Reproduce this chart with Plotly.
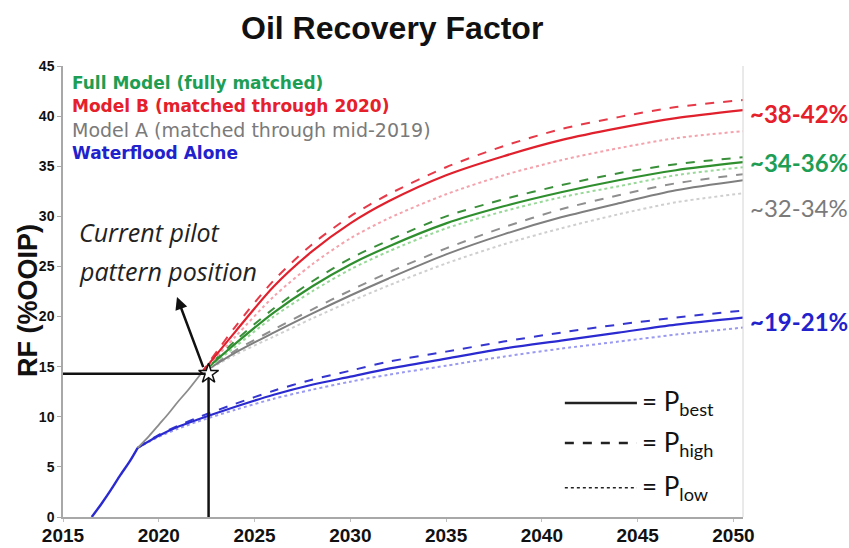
import plotly.graph_objects as go

# ---- history ----
wf_hist_years = [2016.5, 2017.0, 2017.5, 2018.0, 2018.5, 2018.9]
wf_hist_rf = [0.0, 1.3, 2.7, 4.2, 5.6, 6.9]

modela_hist_years = [2018.9, 2019.5, 2020.0, 2020.5, 2021.0, 2021.5, 2022.2]
modela_hist_rf = [6.9, 8.1, 9.2, 10.3, 11.5, 12.6, 14.3]

# ---- forecasts from the current pilot position ----
fc_years = [2022.2, 2024, 2026, 2028, 2030, 2032, 2035, 2038, 2041, 2044, 2047, 2050.5]

modelb_best = [14.3, 18.5, 23.0, 26.5, 29.3, 31.5, 34.1, 36.0, 37.6, 38.8, 39.8, 40.6]
modelb_high = [14.3, 19.0, 23.6, 27.2, 30.0, 32.2, 34.9, 37.0, 38.7, 39.9, 40.9, 41.6]
modelb_low = [14.3, 18.0, 22.0, 25.2, 27.8, 29.8, 32.2, 34.1, 35.6, 36.8, 37.8, 38.5]

full_best = [14.3, 17.3, 20.4, 23.0, 25.2, 27.0, 29.3, 31.0, 32.4, 33.6, 34.6, 35.4]
full_high = [14.3, 17.6, 20.8, 23.5, 25.8, 27.6, 30.0, 31.7, 33.1, 34.3, 35.2, 35.9]
full_low = [14.3, 17.0, 20.0, 22.5, 24.7, 26.5, 28.8, 30.5, 31.9, 33.0, 34.1, 34.9]

modela_best = [14.3, 16.4, 18.4, 20.3, 22.1, 23.8, 26.2, 28.2, 29.9, 31.3, 32.6, 33.6]
modela_high = [14.3, 16.6, 18.7, 20.7, 22.6, 24.4, 26.8, 28.9, 30.7, 32.1, 33.3, 34.2]
modela_low = [14.3, 16.2, 18.0, 19.8, 21.5, 23.1, 25.3, 27.2, 28.8, 30.2, 31.4, 32.3]

wf_years = [2018.9, 2020, 2021, 2022, 2024, 2026, 2028, 2030, 2032, 2035, 2038, 2041, 2044, 2047, 2050.5]
wf_best = [6.9, 8.1, 9.0, 9.7, 11.0, 12.2, 13.2, 14.0, 14.8, 15.8, 16.8, 17.6, 18.4, 19.2, 19.9]
wf_high = [6.9, 8.2, 9.1, 9.9, 11.3, 12.6, 13.7, 14.6, 15.5, 16.5, 17.5, 18.4, 19.2, 19.9, 20.6]
wf_low = [6.9, 8.0, 8.8, 9.5, 10.7, 11.8, 12.7, 13.5, 14.2, 15.1, 16.0, 16.8, 17.5, 18.2, 18.9]

current_year = 2022.6
current_rf = 14.3

x_ticks = [2015, 2020, 2025, 2030, 2035, 2040, 2045, 2050]
y_ticks = [0, 5, 10, 15, 20, 25, 30, 35, 40, 45]

# caption text, colour, weight, size
series_labels = [
    ("Full Model (fully matched)", "#1e9e55", "bold", 17),
    ("Model B (matched through 2020)", "#e5202a", "bold", 17),
    ("Model A (matched through mid-2019)", "#7a7a7a", "normal", 19),
    ("Waterflood Alone", "#2222cc", "bold", 17),
]
range_labels = [
    ("~38-42%", 40.3, "#e5202a", "bold"),
    ("~34-36%", 35.4, "#1e9e55", "bold"),
    ("~32-34%", 30.9, "#7a7a7a", "normal"),
    ("~19-21%", 19.5, "#2222cc", "bold"),
]

fig = go.Figure()


def add_line(x, y, color, dash="solid", width=2.0):
    fig.add_trace(go.Scatter(
        x=x, y=y, mode="lines", showlegend=False, hoverinfo="skip",
        line=dict(color=color, dash=dash, width=width, shape="spline", smoothing=0.8),
    ))


# Waterflood
add_line(wf_years, wf_low, "#9a9af0", "dot", 2.0)
add_line(wf_years, wf_high, "#3535d0", "dash", 2.0)
add_line(wf_years, wf_best, "#2a2ad0", "solid", 2.2)
add_line(wf_hist_years, wf_hist_rf, "#2a2ad0", "solid", 2.4)

# Model A
add_line(modela_hist_years, modela_hist_rf, "#8c8c8c", "solid", 1.8)
add_line(fc_years, modela_low, "#cfcfcf", "dot", 2.0)
add_line(fc_years, modela_high, "#8f8f8f", "dash", 2.0)
add_line(fc_years, modela_best, "#7f7f7f", "solid", 2.0)

# Full model
add_line(fc_years, full_low, "#98d898", "dot", 2.0)
add_line(fc_years, full_high, "#3a8f3a", "dash", 2.0)
add_line(fc_years, full_best, "#2f8f2f", "solid", 2.2)

# Model B
add_line(fc_years, modelb_low, "#f4a2ac", "dot", 2.0)
add_line(fc_years, modelb_high, "#e63a48", "dash", 2.0)
add_line(fc_years, modelb_best, "#e0202c", "solid", 2.2)

# Current position guides
fig.add_shape(type="line", xref="x", yref="y", x0=2015, x1=current_year - 0.15,
              y0=current_rf, y1=current_rf, line=dict(color="#111", width=2.5))
fig.add_shape(type="line", xref="x", yref="y", x0=current_year, x1=current_year,
              y0=current_rf - 0.45, y1=0, line=dict(color="#111", width=2.5))
fig.add_trace(go.Scatter(
    x=[current_year], y=[current_rf], mode="markers", showlegend=False, hoverinfo="skip",
    marker=dict(symbol="star", size=15, color="white", line=dict(color="#111", width=1.5)),
))

fig.add_annotation(x=2020.95, y=21.96, xref="x", yref="y", ax=2022.35, ay=14.8,
                   axref="x", ayref="y", showarrow=True, arrowhead=2, arrowsize=1,
                   arrowwidth=2.5, arrowcolor="#111", text="")

fig.add_annotation(x=0.021, y=0.632, xref="paper", yref="paper", xanchor="left", yanchor="middle",
                   text="<i>Current pilot</i>", showarrow=False,
                   font=dict(family="Open Sans", size=25, color="#222"))
fig.add_annotation(x=0.021, y=0.545, xref="paper", yref="paper", xanchor="left", yanchor="middle",
                   text="<i>pattern position</i>", showarrow=False,
                   font=dict(family="Open Sans", size=25, color="#222"))

# Series captions
for i, (txt, col, wt, sz) in enumerate(series_labels):
    fig.add_annotation(x=0.0103, y=0.963 - i * 0.0522, xref="paper", yref="paper",
                       xanchor="left", yanchor="middle", text=txt, showarrow=False,
                       font=dict(family="DejaVu Sans", size=sz, color=col, weight=wt))

# End-of-forecast ranges
for txt, yv, col, wt in range_labels:
    fig.add_annotation(x=1.008, y=yv, xref="paper", yref="y", xanchor="left", yanchor="middle",
                       text=txt, showarrow=False,
                       font=dict(family="Lato", size=24, color=col, weight=wt))

# Line-style key
key_rows = [("solid", 0.253, "best"), ("dash", 0.164, "high"), ("dot", 0.065, "low")]
for dash, yp, sub in key_rows:
    fig.add_shape(type="line", xref="paper", yref="paper", x0=0.738, x1=0.844, y0=yp, y1=yp,
                  line=dict(color="#222", width=2.5 if dash != "dot" else 1.5, dash=dash))
    fig.add_annotation(x=0.849, y=yp, xref="paper", yref="paper", xanchor="left", yanchor="middle",
                       text="= P<sub>%s</sub>" % sub, showarrow=False,
                       font=dict(family="Lato", size=26, color="#111"))

# Right frame edge
fig.add_shape(type="line", xref="paper", yref="paper", x0=1, x1=1, y0=0, y1=1,
              line=dict(color="#d4d4d4", width=1))

# Titles
fig.add_annotation(x=0.4838, y=1.084, xref="paper", yref="paper", xanchor="center", yanchor="middle",
                   text="Oil Recovery Factor", showarrow=False,
                   font=dict(family="Liberation Sans", size=32, color="#111", weight="bold"))
fig.add_annotation(x=-0.0515, y=0.481, xref="paper", yref="paper", xanchor="center", yanchor="middle",
                   text="RF (%OOIP)", textangle=-90, showarrow=False,
                   font=dict(family="Liberation Sans", size=27, color="#111", weight="bold"))

fig.update_layout(
    width=849, height=548,
    margin=dict(l=63, r=106, t=66, b=31),
    paper_bgcolor="white", plot_bgcolor="white",
    xaxis=dict(range=[2015, 2050.5], tickvals=x_ticks, showgrid=False, zeroline=False,
               automargin=False,
               showline=True, linecolor="#a8a8a8", linewidth=1.5,
               ticks="outside", ticklen=3, tickcolor="#c0c0c0", ticklabelstandoff=-3,
               tickfont=dict(family="Liberation Sans", size=19, color="#111", weight="bold")),
    yaxis=dict(range=[0, 45], tickvals=y_ticks, showgrid=False, zeroline=False,
               automargin=False,
               showline=True, linecolor="#a8a8a8", linewidth=1.5,
               ticks="outside", ticklen=4, tickcolor="#a8a8a8",
               tickfont=dict(family="Liberation Sans", size=14, color="#111", weight="bold")),
)

fig.write_html("out.html")
